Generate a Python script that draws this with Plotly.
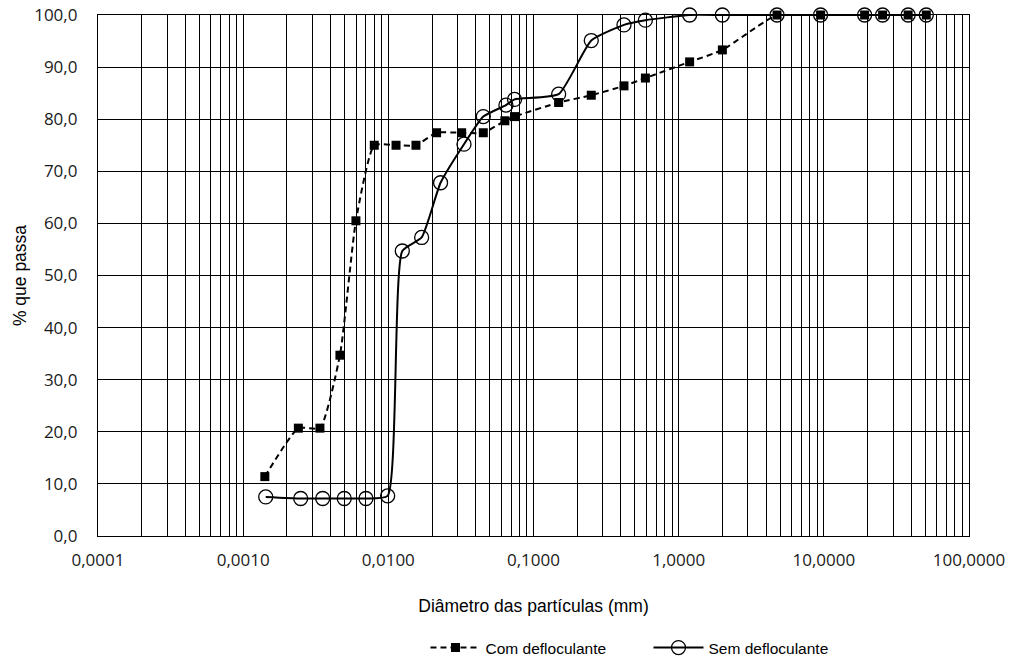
import plotly.graph_objects as go

# Com defloculante (dashed, squares)
com_x = [0.00141, 0.00240, 0.00338, 0.00464, 0.00598, 0.0080, 0.0113, 0.0155, 0.0215,
         0.0320, 0.0451, 0.0635, 0.074, 0.149, 0.25, 0.42, 0.59, 1.19, 2.0,
         4.76, 9.5, 19.1, 25.4, 38.1, 50.8]
com_y = [11.4, 20.7, 20.7, 34.7, 60.5, 75.0, 75.0, 75.0, 77.4,
         77.4, 77.4, 79.7, 80.5, 83.2, 84.6, 86.4, 87.9, 91.0, 93.3,
         100.0, 100.0, 100.0, 100.0, 100.0, 100.0]

# Sem defloculante (solid, open circles)
sem_x = [0.00143, 0.00249, 0.00353, 0.00497, 0.00701, 0.00989, 0.01248, 0.01696, 0.0229,
         0.0332, 0.0451, 0.0646, 0.074, 0.149, 0.25, 0.42, 0.59, 1.19, 2.0,
         4.76, 9.5, 19.1, 25.4, 38.1, 50.8]
sem_y = [7.5, 7.2, 7.2, 7.2, 7.2, 7.7, 54.7, 57.3, 67.8,
         75.2, 80.5, 82.7, 83.8, 84.8, 95.1, 98.1, 99.0, 100.0, 100.0,
         100.0, 100.0, 100.0, 100.0, 100.0, 100.0]

x_ticks = [0.0001, 0.001, 0.01, 0.1, 1, 10, 100]
x_labels = ["0,0001", "0,0010", "0,0100", "0,1000", "1,0000", "10,0000", "100,0000"]
y_ticks = [0, 10, 20, 30, 40, 50, 60, 70, 80, 90, 100]
y_labels = ["0,0", "10,0", "20,0", "30,0", "40,0", "50,0", "60,0", "70,0", "80,0", "90,0", "100,0"]

fig = go.Figure()
fig.add_trace(go.Scatter(
    x=com_x, y=com_y, name="Com defloculante", mode="lines+markers",
    line=dict(color="black", width=2, dash="6px,4px", shape="spline", smoothing=0.5),
    marker=dict(symbol="square", size=9, color="black"),
    cliponaxis=False,
))
fig.add_trace(go.Scatter(
    x=sem_x, y=sem_y, name="Sem defloculante", mode="lines+markers",
    line=dict(color="black", width=2, shape="spline", smoothing=0.5),
    marker=dict(symbol="circle-open", size=14, color="black", line=dict(width=1.3, color="black")),
    cliponaxis=False,
))

tick_font = dict(family="Open Sans", size=17, color="#1a1a1a")
fig.update_layout(
    width=1014, height=662,
    margin=dict(l=98, r=45, t=15, b=126, autoexpand=False),
    paper_bgcolor="white", plot_bgcolor="white",
    showlegend=True,
    legend=dict(orientation="h", x=0.376, xanchor="left", y=-0.215, yanchor="middle",
                font=dict(family="Liberation Sans", size=15.5, color="black"),
                entrywidth=158, entrywidthmode="pixels",
                itemwidth=50, tracegroupgap=0, bgcolor="rgba(0,0,0,0)"),
    xaxis=dict(
        type="log", range=[-4, 2], automargin=False,
        tickvals=x_ticks, ticktext=x_labels, tickfont=tick_font, ticks="",
        ticklabelstandoff=8,
        showgrid=True, gridcolor="black", gridwidth=1.3,
        minor=dict(dtick="D1", showgrid=True, gridcolor="black", gridwidth=1.3, ticks=""),
        showline=True, linecolor="black", linewidth=1.3, mirror=True,
        title=dict(text="Diâmetro das partículas (mm)", font=dict(family="Liberation Sans", size=17.5, color="black"), standoff=30),
        zeroline=False,
    ),
    yaxis=dict(
        range=[0, 100], automargin=False, tickvals=y_ticks, ticktext=y_labels, tickfont=tick_font, ticks="",
        ticklabelstandoff=16,
        showgrid=True, gridcolor="black", gridwidth=1.3,
        showline=True, linecolor="black", linewidth=1.3, mirror=True,
        title=dict(text="% que passa", font=dict(family="Liberation Sans", size=17.5, color="black"), standoff=3),
        zeroline=False,
    ),
)
fig.write_html("out.html")
